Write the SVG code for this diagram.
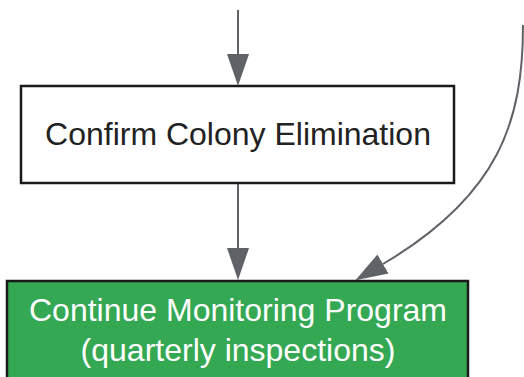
<svg xmlns="http://www.w3.org/2000/svg" width="524" height="377" viewBox="0 0 524 377">
  <style>
    .edge { fill: none; stroke: #5f6368; stroke-width: 2; }
    .node rect { stroke: #1a1a1a; stroke-width: 2.5; }
    .label { font-family: "Liberation Sans", Arial, sans-serif; font-size: 32px; text-anchor: middle; }
  </style>
  <defs>
    <marker id="arrow" markerUnits="userSpaceOnUse" markerWidth="34" markerHeight="24" refX="0" refY="11" orient="auto" viewBox="0 0 34 22">
      <path d="M0,0 L32,11 L0,22 Z" fill="#5f6368"/>
    </marker>
  </defs>
  <rect width="524" height="377" fill="#ffffff"/>
  <g id="connectors">
    <path class="edge" d="M238,10 L238,54" marker-end="url(#arrow)"/>
    <path class="edge" d="M238,183 L238,248" marker-end="url(#arrow)"/>
    <path class="edge" d="M523,25 C523,120 500,195 383,264" marker-end="url(#arrow)"/>
  </g>
  <g id="confirm" class="node">
    <rect x="21" y="86" width="433" height="97" fill="#ffffff"/>
    <text class="label" x="238" y="145" fill="#222222">Confirm Colony Elimination</text>
  </g>
  <g id="monitoring" class="node">
    <rect x="7" y="281" width="461" height="110" fill="#34a853"/>
    <text class="label" x="238" y="321" fill="#ffffff">Continue Monitoring Program</text>
    <text class="label" x="238" y="361" fill="#ffffff">(quarterly inspections)</text>
  </g>
</svg>
